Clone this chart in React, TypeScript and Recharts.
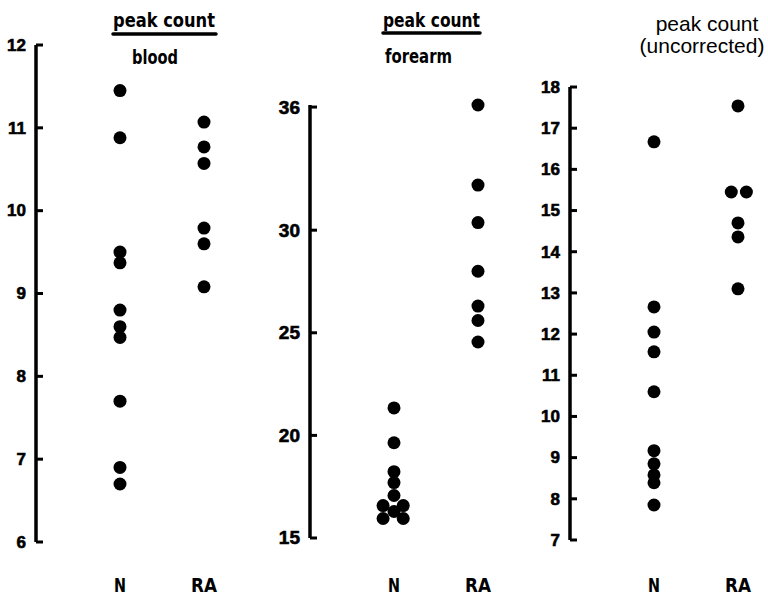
import { Scatter, ScatterChart, XAxis, YAxis } from 'recharts';

const categories = ['N', 'RA'];

// peak count / blood
const bloodTicks = [6, 7, 8, 9, 10, 11, 12];
const bloodN = [11.45, 10.88, 9.5, 9.37, 8.8, 8.6, 8.47, 7.7, 6.9, 6.7];
const bloodRA = [11.07, 10.77, 10.57, 9.79, 9.6, 9.08];

// peak count / forearm
const forearmTicks = [15, 20, 25, 30, 36];
const forearmN = [21.34, 19.64, 18.23, 17.7, 17.07, 16.58, 16.58, 16.29, 15.95, 15.95];
const forearmNShift = [0, 0, 0, 0, 0, -0.13, 0.11, 0, -0.13, 0.11];
const forearmRA = [36.1, 32.2, 30.37, 28.0, 26.3, 25.6, 24.55];

// peak count (uncorrected)
const uncorrTicks = [7, 8, 9, 10, 11, 12, 13, 14, 15, 16, 17, 18];
const uncorrN = [16.67, 12.66, 12.05, 11.57, 10.6, 9.17, 8.85, 8.58, 8.39, 7.85];
const uncorrRA = [17.54, 15.45, 15.45, 14.7, 14.36, 13.1];
const uncorrRAShift = [0, -0.08, 0.1, 0, 0, 0];

const BOLD = "'DejaVu Sans', sans-serif";
const ARIAL = "'Liberation Sans', Arial, sans-serif";
const UNIT = 84; // px between axis, N and RA columns
const Y_AXIS_W = 36;

const toPoints = (vals: number[], cat: number, shift?: number[]) =>
  vals.map((v, i) => ({ x: cat + (shift ? shift[i] : 0), y: v }));

const Dot = (p: any) => <circle cx={p.cx} cy={p.cy} r={6.5} fill="#000" />;

function YTick(props: any) {
  const { y, payload, size } = props;
  return (
    <g>
      <line x1={Y_AXIS_W} x2={Y_AXIS_W + 7} y1={y} y2={y} stroke="#000" strokeWidth={3} />
      <text
        x={Y_AXIS_W - 10}
        y={y + size * 0.34}
        textAnchor="end"
        fontFamily={ARIAL}
        fontWeight="bold"
        fontSize={size}
        fill="#000"
        stroke="#000"
        strokeWidth={0.6}
      >
        {payload.value}
      </text>
    </g>
  );
}

function XTick(props: any) {
  const { x, payload } = props;
  const label = categories[payload.value - 1];
  return (
    <text
      x={x}
      y={592}
      textAnchor="middle"
      fontFamily={BOLD}
      fontWeight="bold"
      fontSize={20}
      fill="#000"
      stroke="none"
      textLength={label.length === 1 ? 12 : 26}
      lengthAdjust="spacingAndGlyphs"
    >
      {label}
    </text>
  );
}

function Panel({
  left,
  top,
  plotBottom,
  xMax,
  yTicks,
  nData,
  raData,
  tickSize
}: {
  left: number;
  top: number;
  plotBottom: number;
  xMax: number;
  yTicks: number[];
  nData: { x: number; y: number }[];
  raData: { x: number; y: number }[];
  tickSize: number;
}) {
  const width = Y_AXIS_W + UNIT * xMax;
  return (
    <div style={{ position: 'absolute', left, top: 0 }}>
      <ScatterChart width={width} height={598} margin={{ top, right: 0, bottom: 0, left: 0 }}>
        <XAxis
          type="number"
          dataKey="x"
          domain={[0, xMax]}
          ticks={[1, 2]}
          axisLine={false}
          tickLine={false}
          height={598 - plotBottom}
          interval={0}
          tick={<XTick />}
        />
        <YAxis
          type="number"
          dataKey="y"
          domain={[yTicks[0], yTicks[yTicks.length - 1]]}
          ticks={yTicks}
          interval={0}
          width={Y_AXIS_W}
          axisLine={{ stroke: '#000', strokeWidth: 3.5 }}
          tickLine={false}
          tick={<YTick size={tickSize} />}
        />
        <Scatter data={nData} shape={Dot} isAnimationActive={false} />
        <Scatter data={raData} shape={Dot} isAnimationActive={false} />
      </ScatterChart>
    </div>
  );
}

export default function App() {
  return (
    <div
      style={{
        position: 'absolute',
        left: 0,
        top: 0,
        width: 768,
        height: 598,
        background: '#fff',
        overflow: 'hidden'
      }}
    >
      <Panel
        left={0}
        top={45}
        plotBottom={542}
        xMax={2.5}
        yTicks={bloodTicks}
        nData={toPoints(bloodN, 1)}
        raData={toPoints(bloodRA, 2)}
        tickSize={17}
      />
      <Panel
        left={274}
        top={105}
        plotBottom={538}
        xMax={2.4}
        yTicks={forearmTicks}
        nData={toPoints(forearmN, 1, forearmNShift)}
        raData={toPoints(forearmRA, 2)}
        tickSize={19}
      />
      <Panel
        left={534}
        top={87}
        plotBottom={540}
        xMax={2.3}
        yTicks={uncorrTicks}
        nData={toPoints(uncorrN, 1)}
        raData={toPoints(uncorrRA, 2, uncorrRAShift)}
        tickSize={17}
      />
      <svg width={768} height={598} style={{ position: 'absolute', left: 0, top: 0, pointerEvents: 'none' }}>
        <g fontFamily={BOLD} fontWeight="bold" fontSize={19} fill="#000">
          <text x={113} y={27} textLength={102} lengthAdjust="spacingAndGlyphs">peak count</text>
          <line x1={113} x2={216} y1={34} y2={34} stroke="#000" strokeWidth={3.5} strokeLinecap="round" />
          <text x={132} y={64} textLength={46} lengthAdjust="spacingAndGlyphs">blood</text>
          <text x={383} y={27} textLength={97} lengthAdjust="spacingAndGlyphs">peak count</text>
          <line x1={383} x2={480} y1={33} y2={33} stroke="#000" strokeWidth={3.5} strokeLinecap="round" />
          <text x={385} y={63} textLength={67} lengthAdjust="spacingAndGlyphs">forearm</text>
        </g>
        <g fontFamily={ARIAL} fontSize={21} fill="#000">
          <text x={707} y={31} textAnchor="middle">peak count</text>
          <text x={702} y={53} textAnchor="middle">(uncorrected)</text>
        </g>
      </svg>
    </div>
  );
}
